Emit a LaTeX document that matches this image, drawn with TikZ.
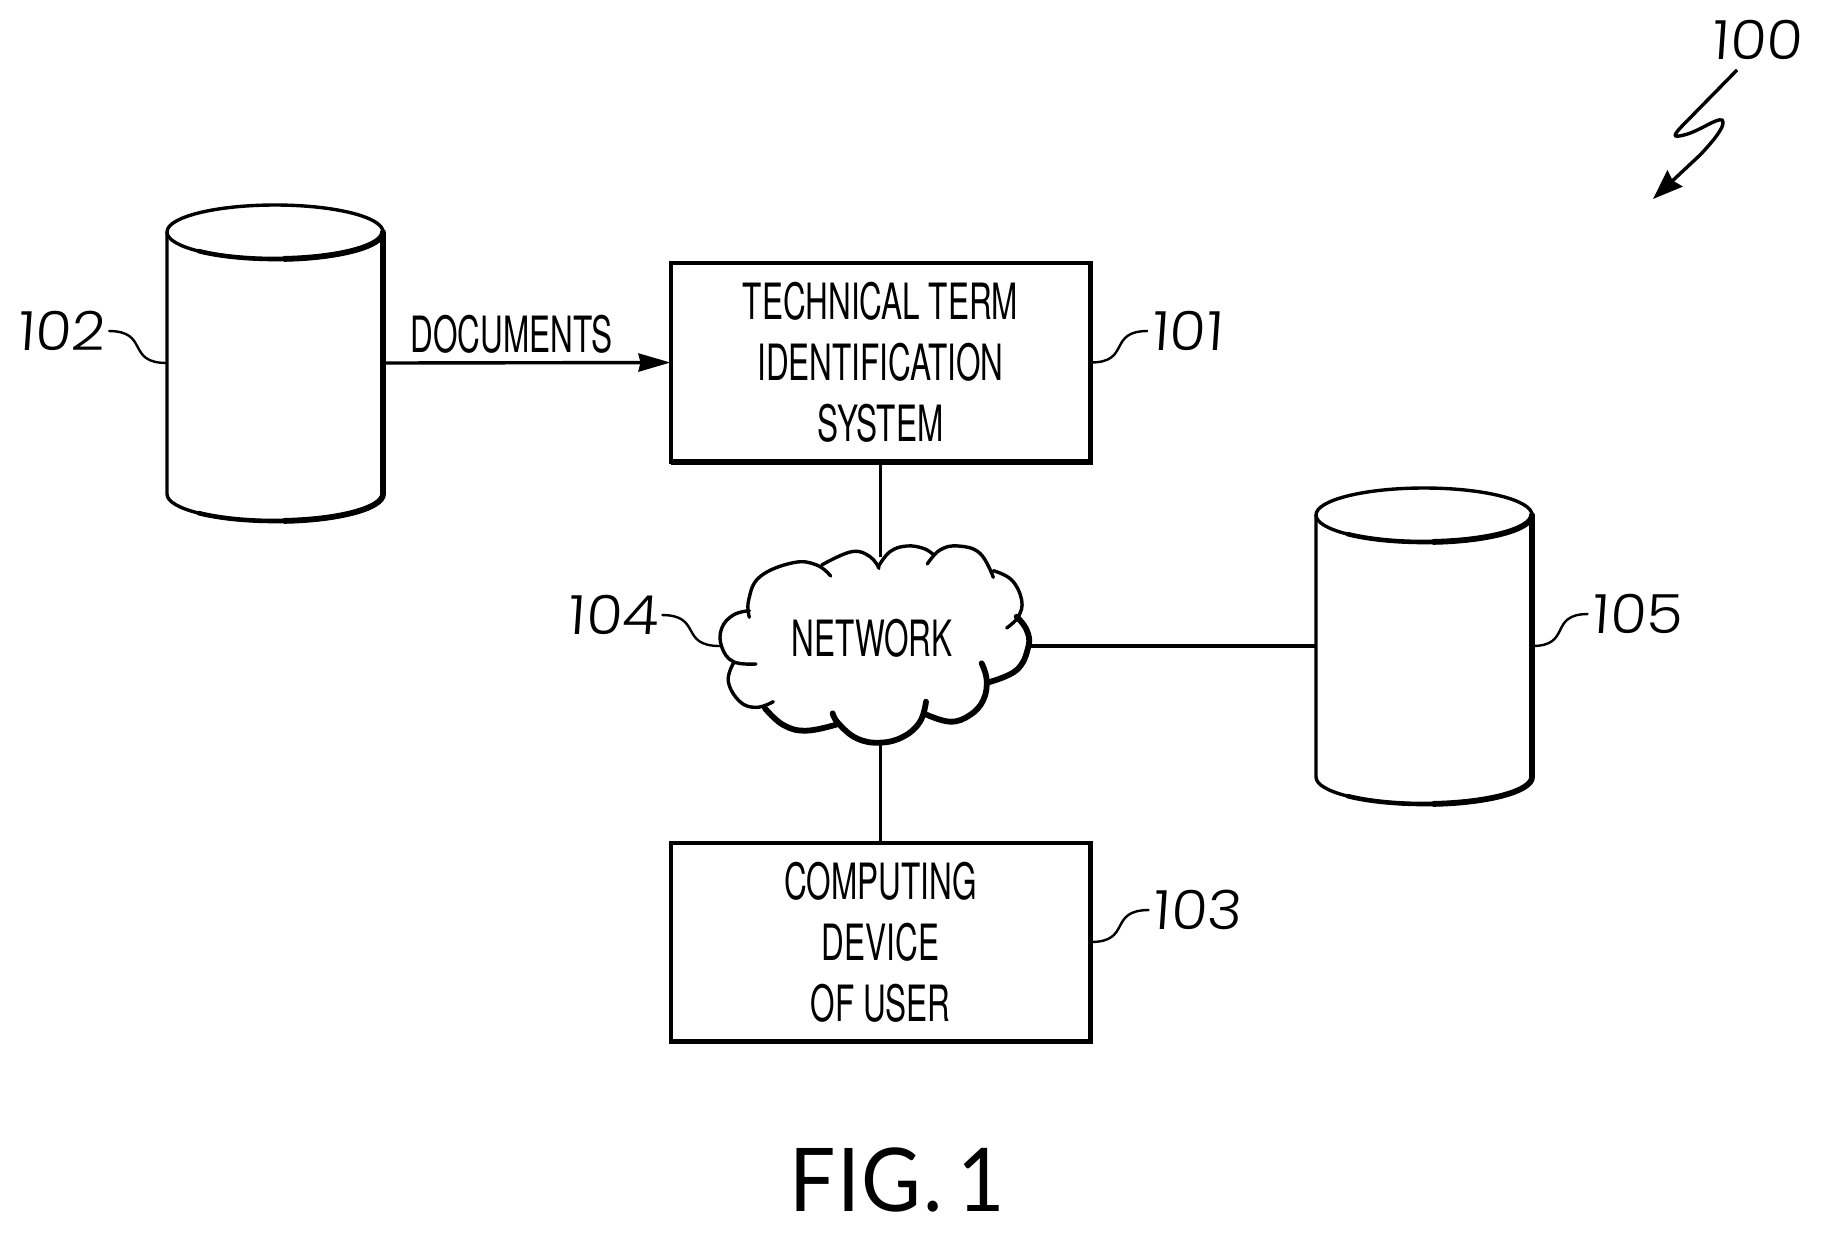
\documentclass[tikz,border=0pt]{standalone}
\usepackage{fontspec}
\usetikzlibrary{arrows.meta}
\setmainfont[FakeStretch=0.63]{TeX Gyre Heros}
\newfontfamily\numfont[FakeSlant=0.07,FakeStretch=1.1]{Poppins Light}
\newfontfamily\figfont[FakeStretch=0.93,LetterSpace=2]{Lato}

\tikzset{
  wire/.style={line width=1.7pt},
  fatwire/.style={line width=2.9pt},
  leader/.style={line width=1.2pt},
  sysbox/.style={draw,line width=2pt,minimum width=210pt,minimum height=99.5pt,inner sep=0pt,outer sep=0pt,align=center,
    font=\fontsize{25}{30.5}\selectfont},
  storebox/.style={minimum width=108pt,minimum height=158.5pt,inner sep=0pt,outer sep=0pt},
  reflabel/.style={inner sep=1.5pt,font=\numfont\fontsize{27}{30}\selectfont},
  plainlabel/.style={inner sep=0pt,font=\fontsize{25}{30}\selectfont},
}

% cylinder: name, centre x, centre y
\newcommand{\datastore}[3]{
  \node[storebox] (#1) at (#2,#3) {};
  \begin{scope}[shift={(#2,#3)}]
    \draw[wire] (0,-131) ellipse [x radius=108,y radius=27];
    \draw[wire] (-108,-131) -- (-108,131) arc [start angle=180,end angle=0,x radius=108,y radius=27] -- (108,-131);
    \draw[fatwire] (108,-131) -- (108,131);
    \draw[line width=2.3pt,line cap=round] (0,-131)++(135:108 and 27) arc [start angle=135,end angle=0,x radius=108,y radius=27];
    \draw[line width=2.3pt,line cap=round] (0,131)++(135:108 and 27) arc [start angle=135,end angle=0,x radius=108,y radius=27];
    \draw[fatwire,line cap=round] (0,-131)++(85:108 and 27) arc [start angle=85,end angle=0,x radius=108,y radius=27];
    \draw[fatwire,line cap=round] (0,131)++(85:108 and 27) arc [start angle=85,end angle=0,x radius=108,y radius=27];
  \end{scope}
}

\begin{document}
\begin{tikzpicture}[x=0.5pt,y=-0.5pt]
\useasboundingbox (0,0) rectangle (1824,1233);

\datastore{store102}{275}{363}
\datastore{store105}{1424}{646}

\node[sysbox] (sys101) at (880.5,362.5) {TECHNICAL TERM\\IDENTIFICATION\\SYSTEM};
\node[sysbox] (dev103) at (880.5,942) {COMPUTING\\DEVICE\\OF USER};
\draw[fatwire] (sys101.south west) -- (sys101.south east) -- (sys101.north east);
\draw[fatwire] (dev103.south west) -- (dev103.south east) -- (dev103.north east);

% cloud, in zoomed coordinates
\node[plainlabel] (net) at (872,638) {NETWORK};
\begin{scope}[shift={(650,500)},x=0.5pt/3,y=-0.5pt/3,line cap=round]
  \draw[wire] plot[smooth,tension=0.7] coordinates {(298,352)(296,300)(330,230)(430,188)(500,195)(542,228)};
  \draw[wire] plot[smooth,tension=0.7] coordinates {(515,195)(605,155)(660,170)(687,205)};
  \draw[wire] plot[smooth,tension=0.7] coordinates {(685,200)(720,155)(770,138)(820,145)(848,162)};
  \draw[wire] plot[smooth,tension=0.7] coordinates {(832,192)(870,150)(925,138)(990,160)(1030,232)};
  \draw[wire] plot[smooth,tension=0.7] coordinates {(1030,212)(1085,240)(1115,300)(1105,350)(1070,384)};
  \draw[fatwire] plot[smooth,tension=0.7] coordinates {(1100,350)(1130,390)(1135,440)(1100,510)(1015,547)};
  \draw[fatwire] plot[smooth,tension=0.7] coordinates {(995,490)(1010,540)(1000,600)(960,645)(900,665)(825,642)};
  \draw[fatwire] plot[smooth,tension=0.7] coordinates {(828,605)(810,665)(760,710)(690,728)(620,715)(565,670)(548,640)};
  \draw[fatwire] plot[smooth,tension=0.7] coordinates {(565,672)(470,692)(400,675)(345,625)};
  \draw[wire] plot[smooth,tension=0.7] coordinates {(370,605)(320,622)(270,605)(235,545)(250,490)};
  \draw[wire] plot[smooth,tension=0.7] coordinates {(318,492)(250,485)(215,440)(215,385)(250,345)(298,332)};
\end{scope}
\coordinate (nettop) at (880.5,557);
\coordinate (netbot) at (880.5,745);
\coordinate (netright) at (1030,646);
\coordinate (netleft) at (720,646);

\draw[wire] (sys101.south) -- (nettop);
\draw[wire] (netbot) -- (dev103.north);
\draw[wire] (netright) -- (store105.west);
\draw[wire,-{Stealth[length=16pt,width=9pt,inset=1pt]}] (store102.east) -- node[plainlabel,above=4pt,pos=0.447] (docs) {DOCUMENTS} (sys101.west);

\node[reflabel] (lab100) at (1757,40) {100};
\node[reflabel] (lab101) at (1187,331) {101};
\node[reflabel] (lab102) at (61,331) {102};
\node[reflabel] (lab103) at (1197,910) {103};
\node[reflabel] (lab104) at (613,615) {104};
\node[reflabel] (lab105) at (1637,614) {105};

\draw[leader] (store102.west) to[out=180,in=0,looseness=1.6] (lab102.east);
\draw[leader] (sys101.east) to[out=0,in=180,looseness=1.6] (lab101.west);
\draw[leader] (dev103.east) to[out=0,in=180,looseness=1.6] (lab103.west);
\draw[leader] (store105.east) to[out=0,in=180,looseness=1.6] (lab105.west);
\draw[leader] (netleft) to[out=180,in=0,looseness=1.6] (lab104.east);

\coordinate (zig) at (1737,70);
\draw[wire,-{Stealth[length=15pt,width=11pt,inset=1.5pt]}] (zig) -- (1686,122) .. controls (1672,136) and (1672,138) .. (1684,135)
  .. controls (1700,131) and (1716,118) .. (1722,120) .. controls (1726,124) and (1718,136) .. (1700,155) -- (1653,199);

\node[inner sep=0pt,font=\figfont\fontsize{44}{48}\selectfont] (fig) at (897,1180) {FIG.\,1};
\end{tikzpicture}
\end{document}
